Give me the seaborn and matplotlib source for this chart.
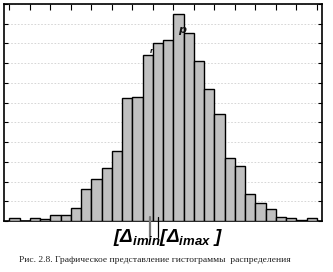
import matplotlib
matplotlib.use("Agg")
import matplotlib.pyplot as plt
import seaborn as sns
import numpy as np
import pandas as pd

# data: 30 histogram bins (bin index) and their heights in grid units
bins = list(range(30))
heights = [0.14, 0.0, 0.14, 0.09, 0.29, 0.29, 0.64, 1.61, 2.12, 2.67,
           3.54, 6.23, 6.28, 8.41, 9.02, 9.17, 10.49, 9.53, 8.11, 6.69,
           5.42, 3.18, 2.78, 1.36, 0.90, 0.59, 0.19, 0.14, 0.04, 0.14]
label_bins = [13, 16]
label_texts = ["r", "p"]
marker_bins = [13.22, 14.0]  # positions of Δimin / Δimax markers (in bin units)

sns.set_theme(style="white")
plt.rcParams["font.family"] = ["DejaVu Sans"]
plt.rcParams["mathtext.fontset"] = "custom"
plt.rcParams["mathtext.rm"] = "Liberation Sans:bold:italic"
plt.rcParams["mathtext.it"] = "Liberation Sans:bold:italic"
plt.rcParams["mathtext.bf"] = "Liberation Sans:bold:italic"

fig = plt.figure(figsize=(3.33, 2.72), dpi=100)
ax = fig.add_axes([4 / 333, 51 / 272, 318 / 333, 217 / 272])

df = pd.DataFrame({"bin": bins, "h": heights})
sns.barplot(data=df, x="bin", y="h", width=1.0, color="#c0c0c0",
            saturation=1, edgecolor="black", linewidth=1.0, ax=ax, zorder=3)

ax.set_xlim(-1.02, 30.0)
ax.set_ylim(0, 11)
ax.set_xlabel("")
ax.set_ylabel("")

ax.set_yticks(np.arange(0, 12, 1))
ax.yaxis.grid(True, color="#d0d0d0", linestyle=(0, (2, 2)), linewidth=0.6, zorder=0)
ax.xaxis.grid(False)
ax.set_xticks(np.arange(-0.5, 30.0, 2))
ax.tick_params(axis="x", which="both", top=True, bottom=False, labeltop=False,
               labelbottom=False, direction="in", length=4, width=0.8, color="black")
ax.tick_params(axis="y", which="both", left=True, right=True, labelleft=False,
               labelright=False, direction="in", length=3, width=0.8, color="black")
for s in ax.spines.values():
    s.set_color("black")
    s.set_linewidth(1.2)

for b, t in zip(label_bins, label_texts):
    fs = 8 if t == "p" else 5
    ax.text(b + 0.35, heights[b] + (-1.05 if t == "p" else 0.05), t, fontsize=fs,
            fontstyle="italic", fontweight="bold", color="#111111",
            ha="center", va="bottom", zorder=5)

# marker lines below axis
ax.plot([marker_bins[0], marker_bins[0]], [0.2, -0.8], color="#777777", lw=1.6,
        clip_on=False, zorder=6)
ax.plot([marker_bins[1], marker_bins[1]], [0.2, -0.8], color="black", lw=0.9,
        clip_on=False, zorder=6)

fig.text(168 / 333, 1 - 237 / 272, r"$[\Delta_{imin}[\Delta_{imax}\ ]$",
         fontsize=13.5, ha="center", va="center", color="black")

fig.text(19 / 333, 1 - 260 / 272,
         "Рис. 2.8. Графическое представление гистограммы  распределения",
         fontsize=6.8, family=["Liberation Serif", "DejaVu Serif"],
         ha="left", va="center", color="#222222")

fig.savefig("out.png", dpi=100)
